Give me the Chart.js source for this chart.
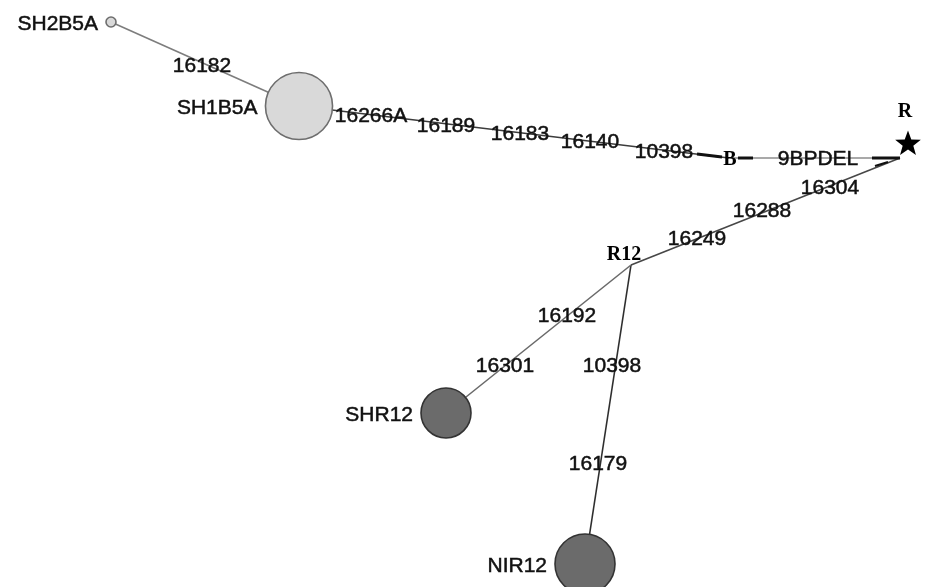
<!DOCTYPE html>
<html>
<head>
<meta charset="utf-8">
<script src="https://cdn.jsdelivr.net/npm/chart.js@4.4.1/dist/chart.umd.min.js"></script>
<style>
  html, body { margin: 0; padding: 0; background: #ffffff; }
  #wrap { width: 926px; height: 587px; }
</style>
</head>
<body>
<div id="wrap"><canvas id="net" width="926" height="587"></canvas></div>
<script>
// Median-joining network: haplotype nodes, median vectors and mutated positions per link.
const nodeNames = ['SH2B5A', 'SH1B5A', 'B', 'R', 'R12', 'SHR12', 'NIR12'];
const nodeX     = [111, 299, 729, 900, 631, 446, 585];
const nodeY     = [22, 106, 158, 158, 265, 413, 564];
const nodeFreq  = [1, 45, 0, 0, 0, 25, 36];          // 0 = median vector / reference (no circle)
const nodeGroup = ['B5A', 'B5A', 'mv', 'ref', 'mv', 'R12', 'R12'];

// Links between nodes (indices into the node arrays)
const linkFrom = [0, 1, 2, 3, 4, 4];
const linkTo   = [1, 2, 3, 4, 5, 6];

// Mutated positions on each link
const linkMutations = [
  ['16182'],
  ['16266A', '16189', '16183', '16140', '10398'],
  ['9BPDEL'],
  ['16304', '16288', '16249'],
  ['16192', '16301'],
  ['10398', '16179']
];

// Where each mutation name is written, in network coordinates
const mutationAt = [
  [[202, 65]],
  [[371, 115], [446, 125], [520, 133], [590, 141], [664, 151]],
  [[818, 158]],
  [[830, 187], [762, 210], [697, 238]],
  [[567, 315], [505, 365]],
  [[612, 365], [598, 463]]
];

// Heavy strokes marking the median vector B and the reference end
const heavyFromX = [697, 738, 872, 875];
const heavyFromY = [154, 158, 158, 166];
const heavyToX   = [722, 753, 900, 888];
const heavyToY   = [157, 158, 158, 162];

const groupFill   = { B5A: '#d9d9d9', R12: '#6b6b6b' };
const groupBorder = { B5A: '#6e6e6e', R12: '#333333' };
const linkColor   = ['#7d7d7d', '#3c3c3c', '#8c8c8c', '#474747', '#6a6a6a', '#2e2e2e'];
const heavyWidth  = [3, 3, 3, 2];
const RADIUS_UNIT = 5;

const circleIdx = nodeNames.map((n, i) => i).filter(i => nodeFreq[i] > 0);

const datasets = [];

// Haplotype circles (first dataset is drawn on top)
datasets.push({
  label: 'haplotypes',
  data: circleIdx.map(i => ({ x: nodeX[i], y: nodeY[i] })),
  pointRadius: circleIdx.map(i => RADIUS_UNIT * Math.sqrt(nodeFreq[i])),
  pointHoverRadius: circleIdx.map(i => RADIUS_UNIT * Math.sqrt(nodeFreq[i])),
  backgroundColor: circleIdx.map(i => groupFill[nodeGroup[i]]),
  borderColor: circleIdx.map(i => groupBorder[nodeGroup[i]]),
  pointBorderWidth: 1.6,
  showLine: false,
  clip: false
});

// Heavy strokes
heavyFromX.forEach((x0, k) => {
  datasets.push({
    label: 'heavy' + k,
    data: [{ x: x0, y: heavyFromY[k] }, { x: heavyToX[k], y: heavyToY[k] }],
    showLine: true,
    borderColor: '#111111',
    borderWidth: heavyWidth[k],
    pointRadius: 0,
    clip: false
  });
});

// Links
linkFrom.forEach((a, k) => {
  const b = linkTo[k];
  datasets.push({
    label: 'link' + k,
    data: [{ x: nodeX[a], y: nodeY[a] }, { x: nodeX[b], y: nodeY[b] }],
    showLine: true,
    borderColor: linkColor[k],
    borderWidth: 1.6,
    pointRadius: 0,
    clip: false
  });
});

const SANS = '21px Arial, "Liberation Sans", sans-serif';
const SERIF = 'bold 20px "Times New Roman", "Liberation Serif", serif';

function heavyText(ctx, s, x, y) {
  ctx.strokeText(s, x, y);
  ctx.fillText(s, x, y);
}

const networkLabels = {
  id: 'networkLabels',
  afterDatasetsDraw(chart) {
    const ctx = chart.ctx;
    const xs = chart.scales.x, ys = chart.scales.y;
    const px = v => xs.getPixelForValue(v);
    const py = v => ys.getPixelForValue(v);
    ctx.save();

    // Reference star beside the R junction
    const ri = nodeNames.indexOf('R');
    const sx = px(nodeX[ri]) + 8, sy = py(nodeY[ri]) - 14;
    const outer = 13.5, inner = 5.6;
    ctx.beginPath();
    for (let i = 0; i < 10; i++) {
      const r = i % 2 === 0 ? outer : inner;
      const a = -Math.PI / 2 + i * Math.PI / 5;
      const X = sx + r * Math.cos(a), Y = sy + r * Math.sin(a);
      if (i === 0) ctx.moveTo(X, Y); else ctx.lineTo(X, Y);
    }
    ctx.closePath();
    ctx.fillStyle = '#000000';
    ctx.fill();

    // Mutation names
    ctx.fillStyle = '#111111';
    ctx.strokeStyle = '#111111';
    ctx.lineWidth = 0.5;
    ctx.font = SANS;
    ctx.textAlign = 'center';
    ctx.textBaseline = 'middle';
    linkMutations.forEach((muts, k) => {
      muts.forEach((m, j) => {
        const p = mutationAt[k][j];
        heavyText(ctx, m, px(p[0]), py(p[1]) + 1);
      });
    });

    // Haplotype names, to the left of their circles
    ctx.textAlign = 'right';
    circleIdx.forEach(i => {
      const r = RADIUS_UNIT * Math.sqrt(nodeFreq[i]);
      heavyText(ctx, nodeNames[i], px(nodeX[i]) - r - 8, py(nodeY[i]) + 2);
    });

    // Median vector and reference names
    ctx.font = SERIF;
    ctx.textAlign = 'center';
    ctx.fillStyle = '#000000';
    const bi = nodeNames.indexOf('B');
    ctx.fillText('B', px(nodeX[bi]) + 1, py(nodeY[bi]) + 2);
    ctx.fillText('R', sx - 3, sy - 32);
    const r12 = nodeNames.indexOf('R12');
    ctx.fillText('R12', px(nodeX[r12]) - 7, py(nodeY[r12]) - 10);

    ctx.restore();
  }
};

new Chart(document.getElementById('net'), {
  type: 'scatter',
  data: { datasets },
  options: {
    responsive: false,
    animation: false,
    devicePixelRatio: 1,
    layout: { padding: 0, autoPadding: false },
    plugins: { legend: { display: false }, tooltip: { enabled: false } },
    events: [],
    scales: {
      x: { type: 'linear', min: 0, max: 926, display: false },
      y: { type: 'linear', min: 0, max: 587, reverse: true, display: false }
    }
  },
  plugins: [networkLabels]
});
</script>
</body>
</html>
